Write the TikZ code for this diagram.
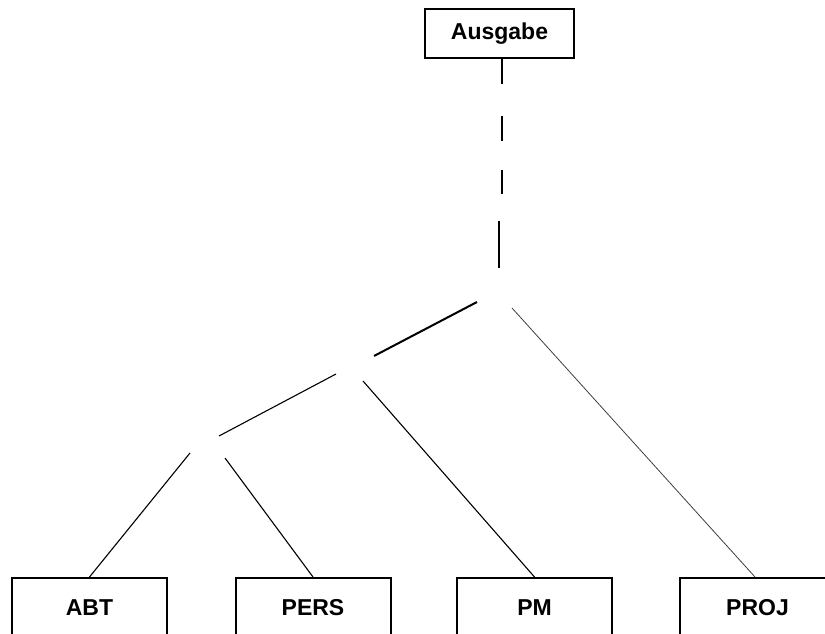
\documentclass[tikz,border=0pt]{standalone}
\usepackage{fontspec}
\setmainfont{Liberation Sans}
\begin{document}
\begin{tikzpicture}[x=1pt,y=-1pt,
  box/.style={draw,line width=2pt,minimum width=155pt,minimum height=60pt,inner sep=0pt,
    font=\fontsize{23}{26}\selectfont\bfseries},
  topbox/.style={draw,line width=2pt,minimum width=149pt,minimum height=49pt,inner sep=0pt,
    font=\fontsize{23}{26}\selectfont\bfseries},
  thick line/.style={line width=2pt},
  thin line/.style={line width=1.1pt},
  hair line/.style={line width=0.8pt,black!75}]
\useasboundingbox (0,0) rectangle (825,634);
\clip (0,0) rectangle (825,634);
\fill[white] (0,0) rectangle (825,634);

\node[topbox] (Ausgabe) at (499.5,33.5) {Ausgabe};
\node[box,anchor=north] (ABT)  at (89.5,577)  {\raisebox{-9pt}{ABT}};
\node[box,anchor=north] (PERS) at (313,577)   {\raisebox{-9pt}{PERS}};
\node[box,anchor=north] (PM)   at (534.5,577) {\raisebox{-9pt}{PM}};
\node[box,anchor=north] (PROJ) at (757.5,577) {\raisebox{-9pt}{PROJ}};

% junction ends
\coordinate (d1) at (502,194);
\coordinate (d2) at (499,221);
\coordinate (j0) at (499,268);
\coordinate (a1) at (477,302);
\coordinate (a2) at (374,356);
\coordinate (b1) at (336,374);
\coordinate (b2) at (219,436);
\coordinate (cPM) at (363,381);
\coordinate (cPROJ) at (512,308);
\coordinate (cABT) at (190,453);
\coordinate (cPERS) at (225,458);

\draw[thick line,dash pattern=on 25pt off 32pt on 25pt off 29pt on 25pt off 40pt]
  (Ausgabe.south -| d1) -- (d1);
\draw[thick line] (d2) -- (j0);
\draw[thick line] (a1) -- (a2);
\draw[thin line] (b1) -- (b2);
\draw[thin line] (cPM) -- (PM.north);
\draw[hair line] (cPROJ) -- (PROJ.north -| 755,0);
\draw[thin line] (cABT) -- (ABT.north);
\draw[thin line] (cPERS) -- (PERS.north);
\end{tikzpicture}
\end{document}
